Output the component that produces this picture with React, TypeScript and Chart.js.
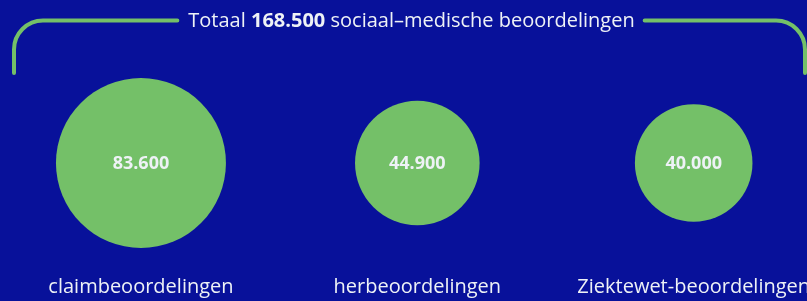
import React, { useEffect, useRef } from "react";
import { Chart, registerables } from "chart.js";

Chart.register(...registerables);

const categories = ["claimbeoordelingen", "herbeoordelingen", "Ziektewet-beoordelingen"];
const values = [83600, 44900, 40000];
const valueLabels = ["83.600", "44.900", "40.000"];
const titlePrefix = "Totaal ";
const titleTotal = "168.500";
const titleSuffix = " sociaal\u2013medische beoordelingen";

const BG = "#08119a";
const GREEN = "#74c068";
const TEXT = "#eef2f6";
const FONT = "'Open Sans', 'Noto Sans', sans-serif";
const MAX_R = 85;

const overlay = {
  id: "overlay",
  beforeDraw(chart: any) {
    const ctx = chart.ctx;
    ctx.save();
    ctx.fillStyle = BG;
    ctx.fillRect(0, 0, chart.width, chart.height);
    ctx.restore();
  },
  afterDraw(chart: any) {
    const ctx = chart.ctx;
    const xs = chart.scales.x;
    const meta = chart.getDatasetMeta(0);
    ctx.save();
    // value labels
    ctx.fillStyle = TEXT;
    ctx.textAlign = "center";
    ctx.textBaseline = "middle";
    ctx.font = `bold 18px ${FONT}`;
    meta.data.forEach((el: any, i: number) => {
      ctx.fillText(valueLabels[i], el.x, el.y + 1);
    });
    // category labels
    ctx.font = `20px ${FONT}`;
    ctx.textBaseline = "alphabetic";
    categories.forEach((c, i) => {
      ctx.fillText(c, xs.getPixelForValue(i), 293);
    });
    // title
    const ty = 21;
    const tf = 20;
    ctx.textBaseline = "middle";
    ctx.textAlign = "left";
    ctx.font = `${tf}px ${FONT}`;
    const w1 = ctx.measureText(titlePrefix).width;
    const w3 = ctx.measureText(titleSuffix).width;
    ctx.font = `bold ${tf}px ${FONT}`;
    const w2 = ctx.measureText(titleTotal).width;
    const total = w1 + w2 + w3;
    const start = 411.5 - total / 2;
    ctx.font = `${tf}px ${FONT}`;
    ctx.fillText(titlePrefix, start, ty);
    ctx.font = `bold ${tf}px ${FONT}`;
    ctx.fillText(titleTotal, start + w1, ty);
    ctx.font = `${tf}px ${FONT}`;
    ctx.fillText(titleSuffix, start + w1 + w2, ty);
    const end = start + total;
    // bracket
    const ly = 20.5;
    const rad = 29;
    ctx.strokeStyle = GREEN;
    ctx.lineWidth = 4;
    ctx.lineCap = "round";
    ctx.beginPath();
    ctx.moveTo(14, 73);
    ctx.lineTo(14, ly + rad);
    ctx.arcTo(14, ly, 14 + rad, ly, rad);
    ctx.lineTo(start - 11, ly);
    ctx.stroke();
    ctx.beginPath();
    ctx.moveTo(end + 10, ly);
    ctx.lineTo(805 - rad, ly);
    ctx.arcTo(805, ly, 805, ly + rad, rad);
    ctx.lineTo(805, 73);
    ctx.stroke();
    ctx.restore();
  },
};

export default function App() {
  const ref = useRef<HTMLCanvasElement | null>(null);
  useEffect(() => {
    document.body.style.margin = "0";
    document.body.style.background = BG;
    const canvas = ref.current!;
    const chart = new Chart(canvas, {
      type: "bubble",
      data: {
        datasets: [
          {
            data: values.map((v, i) => ({ x: i, y: 0, r: MAX_R * Math.sqrt(v / values[0]) })),
            backgroundColor: GREEN,
            borderWidth: 0,
            hoverBorderWidth: 0,
            clip: false,
          },
        ],
      },
      options: {
        responsive: false,
        animation: false,
        events: [],
        layout: { autoPadding: false, padding: { top: 25, left: 0, right: 0, bottom: 0 } },
        scales: {
          x: { type: "linear", min: -0.51, max: 2.41, display: false },
          y: { type: "linear", min: -1, max: 1, display: false },
        },
        plugins: { legend: { display: false }, tooltip: { enabled: false }, title: { display: false } },
      },
      plugins: [overlay],
    } as any);
    return () => chart.destroy();
  }, []);
  return (
    <div style={{ width: 807, height: 301 }}>
      <canvas ref={ref} width={807} height={301} style={{ display: "block" }} />
    </div>
  );
}
